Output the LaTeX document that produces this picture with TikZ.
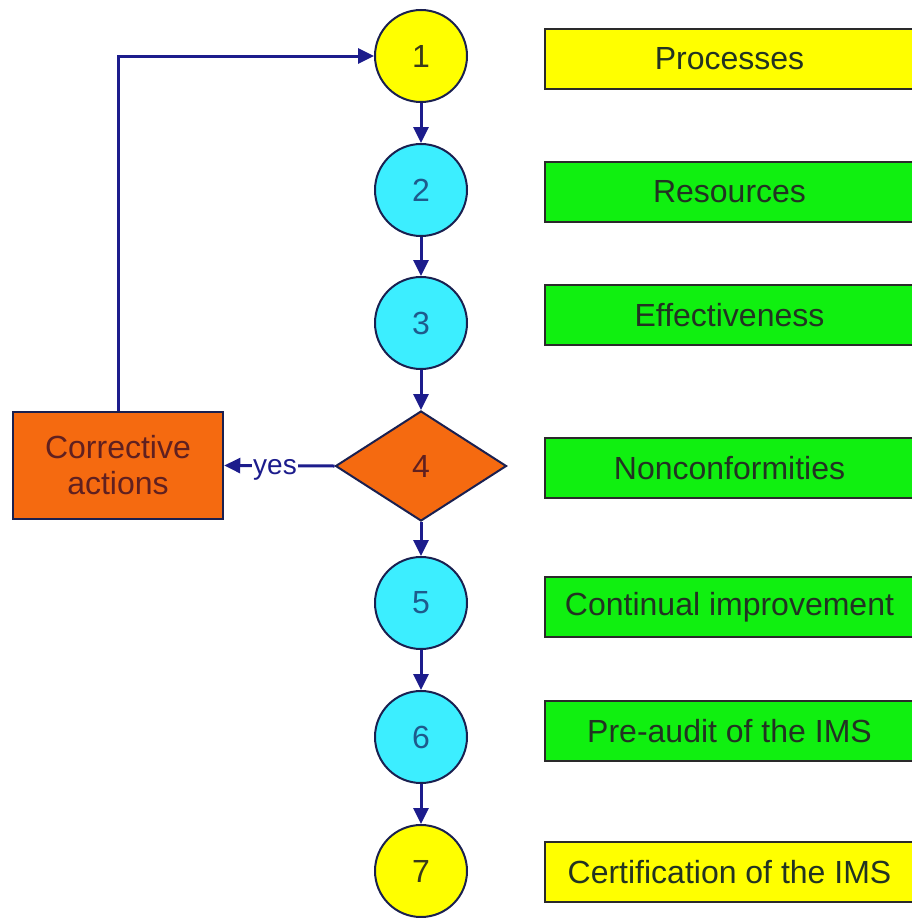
\documentclass[tikz,border=0pt]{standalone}
\usepackage{fontspec}
\setmainfont{Liberation Sans}
\usetikzlibrary{shapes.geometric,arrows.meta}
\definecolor{navy}{HTML}{1C1C8C}
\definecolor{circline}{HTML}{1A2050}
\definecolor{yel}{HTML}{FFFF00}
\definecolor{cya}{HTML}{3CEEFF}
\definecolor{grn}{HTML}{10F010}
\definecolor{org}{HTML}{F56A10}
\definecolor{numblue}{HTML}{1E5A8C}
\definecolor{numdark}{HTML}{3A3A1A}
\definecolor{numred}{HTML}{602020}
\definecolor{boxtext}{HTML}{223322}
\definecolor{boxline}{HTML}{2A2A2A}
\begin{document}
\begin{tikzpicture}[x=1pt,y=-1pt,
  bigfont/.style={font=\fontsize{32}{36}\selectfont},
  flow/.style={draw=navy, line width=3pt, -{Triangle[length=16pt,width=15pt]}},
  stepc/.style={circle, draw=circline, line width=2pt, minimum size=92pt, inner sep=0pt, bigfont},
  ycirc/.style={stepc, fill=yel, text=numdark},
  ccirc/.style={stepc, fill=cya, text=numblue},
  labelbox/.style={rectangle, draw=boxline, line width=2.5pt, minimum width=369pt, minimum height=60pt, inner sep=0pt, bigfont, text=boxtext},
  ybox/.style={labelbox, fill=yel},
  gbox/.style={labelbox, fill=grn}
]
\useasboundingbox (0,0) rectangle (912,918);

% circles and decision
\node[ycirc] (c1) at (421,56) {1};
\node[ccirc] (c2) at (421,190) {2};
\node[ccirc] (c3) at (421,323) {3};
\node[diamond, draw=circline, line width=2pt, fill=org, text=numred, bigfont,
      minimum width=171pt, minimum height=110pt, inner sep=0pt] (d4) at (421,466) {4};
\node[ccirc] (c5) at (421,603) {5};
\node[ccirc] (c6) at (421,737) {6};
\node[ycirc] (c7) at (421,871) {7};

% label boxes
\node[ybox] (r1) at (729.5,59) {Processes};
\node[gbox] (r2) at (729.5,192) {Resources};
\node[gbox] (r3) at (729.5,315) {Effectiveness};
\node[gbox] (r4) at (729.5,468) {Nonconformities};
\node[gbox] (r5) at (729.5,607) {Continual improvement};
\node[gbox] (r6) at (729.5,731) {Pre-audit of the IMS};
\node[ybox] (r7) at (729.5,872) {Certification of the IMS};

% corrective actions
\node[rectangle, draw=circline, line width=2.5pt, fill=org, text=numred, bigfont,
      minimum width=210pt, minimum height=107pt, align=center, inner sep=0pt] (corr) at (118,465.5) {Corrective\\actions};

% connectors
\draw[flow] (c1) -- (c2);
\draw[flow] (c2) -- (c3);
\draw[flow] (c3) -- (d4);
\draw[flow] (d4) -- (c5);
\draw[flow] (c5) -- (c6);
\draw[flow] (c6) -- (c7);
\draw[flow] (d4.west) -- node[pos=0.54, fill=white, inner sep=1pt, yshift=-4pt, text=navy, font=\fontsize{28}{30}\selectfont] {yes} (corr.east);
\draw[flow] (corr.north) |- (c1.west);
\end{tikzpicture}
\end{document}
